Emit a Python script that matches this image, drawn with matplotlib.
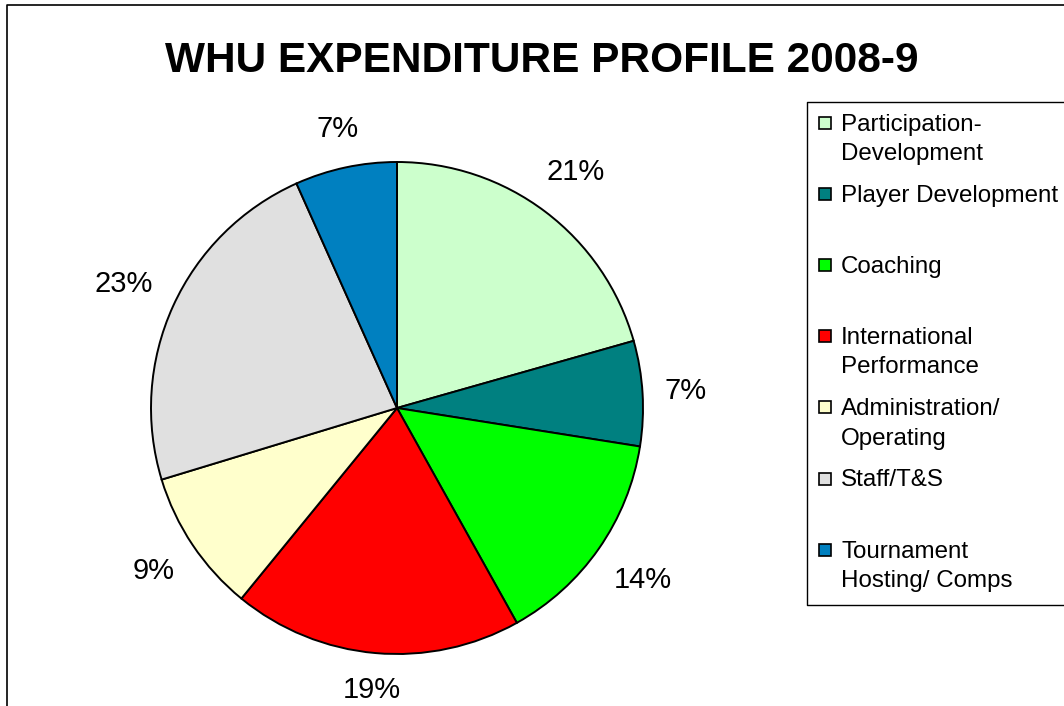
import numpy as np
import matplotlib.pyplot as plt
from matplotlib.patches import Rectangle
from matplotlib.lines import Line2D

plt.rcParams['font.family'] = ['Liberation Sans', 'DejaVu Sans']

categories = ['Participation-\nDevelopment', 'Player Development', 'Coaching',
              'International\nPerformance', 'Administration/\nOperating',
              'Staff/T&S', 'Tournament\nHosting/ Comps']
shares = [20.6, 6.9, 14.4, 19.0, 9.4, 23.0, 6.7]
colors = ['#CCFFCC', '#008080', '#00FF00', '#FF0000', '#FFFFCC', '#E0E0E0', '#0080C0']

W, H = 1064, 706
fig = plt.figure(figsize=(W / 100, H / 100), dpi=100)


def fx(px):
    return px / W


def fy(py):
    return 1 - py / H


# outer chart border (runs off the right and bottom edges)
fig.add_artist(Line2D([fx(7), fx(7), 1.01], [-0.01, fy(5), fy(5)],
                      color='black', lw=1.2))

# pie
cx, cy, r = 397, 408, 246
ax = fig.add_axes([fx(cx - r), fy(cy + r), 2 * r / W, 2 * r / H])
wedges, texts, autotexts = ax.pie(
    shares, colors=colors, startangle=90, counterclock=False,
    autopct='%.0f%%', pctdistance=1.2, radius=1,
    wedgeprops=dict(edgecolor='black', linewidth=1.4))
for t in autotexts:
    t.set_fontsize(21)
    t.set_color('black')
ax.set_xlim(-1, 1)
ax.set_ylim(-1, 1)
ax.axis('off')

# place labels so that their nearest corner sits a fixed gap outside the pie
fig.canvas.draw()
gap = 268 / r
for w, t in zip(wedges, autotexts):
    th = np.deg2rad((w.theta1 + w.theta2) / 2)
    u = np.array([np.cos(th), np.sin(th)])
    bb = t.get_window_extent()
    hw, hh = bb.width / 2 / r, bb.height / 2 / r
    v = np.array([-np.sign(u[0]) * hw, -np.sign(u[1]) * hh])
    uv = u @ v
    d = -uv + np.sqrt(uv ** 2 - v @ v + gap ** 2)
    t.set_position(d * u)

fig.text(fx(542), fy(57), 'WHU EXPENDITURE PROFILE 2008-9', ha='center',
         va='center_baseline', fontsize=30.5, fontweight='bold')

# legend box (right edge runs off the image)
fig.add_artist(Line2D([1.01, fx(807), fx(807), 1.01],
                      [fy(102), fy(102), fy(605), fy(605)],
                      color='black', lw=1.0))
slot_y = 123
for label, col in zip(categories, colors):
    fig.add_artist(Rectangle((fx(819), fy(slot_y + 6)), 12 / W, 12 / H,
                             facecolor=col, edgecolor='black', lw=1.2))
    fig.text(fx(841), fy(slot_y - 9), label, ha='left', va='top',
             fontsize=17.4, linespacing=1.42)
    slot_y += 71.1

fig.savefig('out.png', dpi=100)
